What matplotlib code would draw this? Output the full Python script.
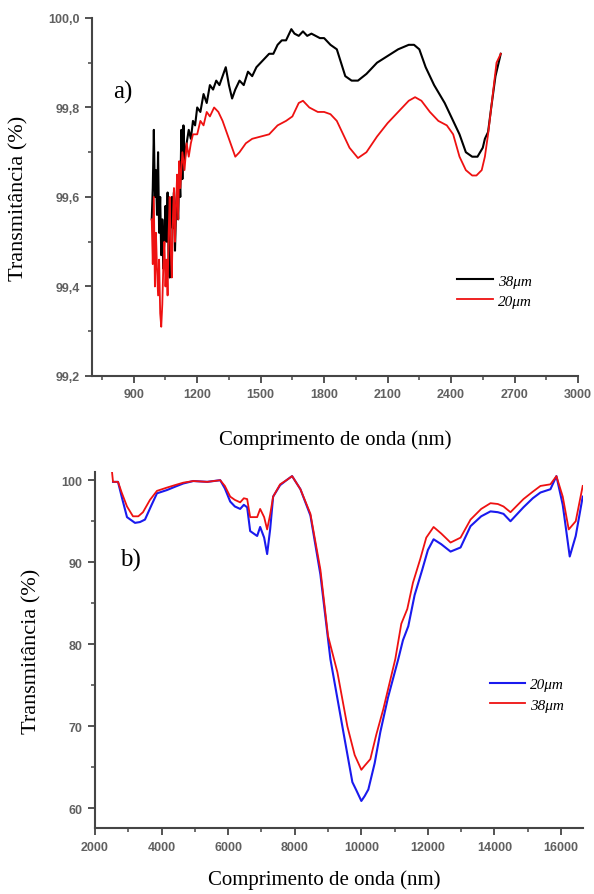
import numpy as np
import matplotlib
matplotlib.use("Agg")
import matplotlib.pyplot as plt
from matplotlib.ticker import MultipleLocator, FuncFormatter

# ---- painel a) NIR ----
a_x38 = [985, 990, 995, 1000, 1005, 1010, 1015, 1020, 1025, 1030, 1035, 1040, 1045, 1050,
         1055, 1060, 1065, 1070, 1075, 1080, 1085, 1090, 1095, 1100, 1105, 1110, 1115, 1120,
         1125, 1130, 1135, 1140, 1150, 1160, 1170, 1180, 1190, 1200, 1215, 1230, 1245, 1260,
         1275, 1290, 1305, 1320, 1335, 1350, 1365, 1380, 1400, 1420, 1440, 1460, 1480, 1500,
         1520, 1540, 1560, 1580, 1600, 1620, 1645, 1660, 1680, 1700, 1720, 1740, 1760, 1780,
         1800, 1830, 1860, 1880, 1900, 1930, 1960, 2000, 2050, 2100, 2150, 2200, 2225, 2250,
         2280, 2320, 2370, 2400, 2440, 2470, 2500, 2525, 2550, 2560, 2575, 2590, 2610, 2635]
a_y38 = [99.55, 99.62, 99.75, 99.60, 99.66, 99.56, 99.70, 99.52, 99.60, 99.47, 99.55, 99.44,
         99.52, 99.58, 99.50, 99.61, 99.46, 99.42, 99.56, 99.60, 99.53, 99.61, 99.48, 99.57,
         99.62, 99.55, 99.66, 99.60, 99.75, 99.64, 99.76, 99.68, 99.72, 99.75, 99.73, 99.77,
         99.76, 99.80, 99.79, 99.83, 99.81, 99.85, 99.84, 99.86, 99.85, 99.87, 99.89, 99.85,
         99.82, 99.84, 99.86, 99.85, 99.88, 99.87, 99.89, 99.90, 99.91, 99.92, 99.92, 99.94,
         99.95, 99.95, 99.975, 99.965, 99.96, 99.97, 99.96, 99.965, 99.96, 99.955, 99.955,
         99.94, 99.93, 99.90, 99.87, 99.86, 99.86, 99.875, 99.90, 99.915, 99.93, 99.94,
         99.94, 99.93, 99.89, 99.85, 99.81, 99.78, 99.74, 99.70, 99.69, 99.69, 99.71, 99.73,
         99.745, 99.80, 99.87, 99.92]

a_x20 = [985, 990, 995, 1000, 1005, 1010, 1015, 1020, 1025, 1030, 1035, 1040, 1045, 1050,
         1055, 1060, 1065, 1070, 1075, 1080, 1085, 1090, 1095, 1100, 1105, 1110, 1115, 1120,
         1130, 1140, 1150, 1160, 1170, 1180, 1200, 1215, 1230, 1245, 1260, 1280, 1300, 1320,
         1350, 1380, 1400, 1430, 1460, 1500, 1540, 1580, 1620, 1650, 1680, 1700, 1730, 1770,
         1800, 1830, 1860, 1890, 1920, 1960, 2000, 2050, 2100, 2150, 2200, 2230, 2260, 2300,
         2340, 2380, 2410, 2440, 2470, 2500, 2520, 2545, 2560, 2575, 2595, 2615, 2635]
a_y20 = [99.55, 99.45, 99.60, 99.40, 99.52, 99.44, 99.38, 99.46, 99.34, 99.31, 99.36, 99.45,
         99.50, 99.40, 99.46, 99.38, 99.52, 99.60, 99.48, 99.42, 99.55, 99.62, 99.50, 99.58,
         99.65, 99.55, 99.68, 99.62, 99.70, 99.66, 99.72, 99.69, 99.72, 99.74, 99.74, 99.77,
         99.76, 99.79, 99.78, 99.80, 99.79, 99.77, 99.73, 99.69, 99.70, 99.72, 99.73, 99.735,
         99.74, 99.76, 99.77, 99.78, 99.81, 99.815, 99.80, 99.79, 99.79, 99.785, 99.77, 99.74,
         99.71, 99.687, 99.70, 99.735, 99.765, 99.79, 99.815, 99.823, 99.815, 99.79, 99.77,
         99.76, 99.74, 99.69, 99.66, 99.648, 99.648, 99.66, 99.69, 99.74, 99.82, 99.90, 99.92]

# ---- painel b) IR ----
b_x38 = [2510, 2540, 2690, 2800, 2960, 3140, 3300, 3440, 3650, 3860, 4160, 4400, 4650, 4950,
         5370, 5760, 5900, 6060, 6200, 6360, 6470, 6570, 6660, 6870, 6960, 7080, 7170, 7260,
         7350, 7560, 7750, 7920, 8170, 8470, 8770, 9000, 9280, 9580, 9800, 10000, 10100, 10270,
         10450, 10660, 11020, 11200, 11380, 11550, 11770, 11950, 12170, 12400, 12680, 12980,
         13280, 13600, 13880, 14100, 14270, 14480, 14870, 15150, 15380, 15680, 15860, 16050,
         16230, 16440, 16650]
b_y38 = [101.0, 99.8, 99.8, 98.5, 96.8, 95.6, 95.6, 96.1, 97.6, 98.7, 99.1, 99.4, 99.7, 99.9,
         99.8, 100.0, 99.3, 98.0, 97.6, 97.3, 97.8, 97.7, 95.5, 95.5, 96.5, 95.5, 94.0, 95.8,
         98.0, 99.5, 100.0, 100.5, 98.9, 95.9, 89.1, 81.0, 76.6, 70.0, 66.5, 64.7, 65.2, 66.0,
         69.0, 72.1, 78.2, 82.5, 84.3, 87.5, 90.4, 93.0, 94.3, 93.5, 92.4, 93.0, 95.2, 96.5,
         97.2, 97.1, 96.8, 96.1, 97.7, 98.6, 99.3, 99.5, 100.5, 98.0, 94.0, 95.0, 99.3]

b_x20 = [2540, 2690, 2800, 2960, 3200, 3350, 3500, 3700, 3860, 4160, 4400, 4650, 4950, 5370,
         5760, 5900, 6060, 6200, 6360, 6470, 6570, 6660, 6870, 6960, 7080, 7170, 7260, 7350,
         7560, 7750, 7920, 8170, 8470, 8770, 9070, 9460, 9730, 9850, 10000, 10100, 10210,
         10400, 10570, 10800, 11110, 11250, 11410, 11600, 11830, 12000, 12170, 12400, 12680,
         12980, 13280, 13600, 13880, 14100, 14270, 14480, 14870, 15150, 15380, 15680, 15860,
         16050, 16260, 16440, 16650]
b_y20 = [99.8, 99.8, 98.0, 95.5, 94.8, 94.9, 95.2, 97.0, 98.4, 98.8, 99.2, 99.6, 99.9, 99.8,
         100.0, 99.0, 97.4, 96.8, 96.5, 97.0, 96.7, 93.8, 93.2, 94.3, 93.0, 91.0, 94.0, 98.0,
         99.4, 100.0, 100.5, 98.9, 95.7, 88.5, 78.2, 69.3, 63.2, 62.2, 60.9, 61.5, 62.3, 65.5,
         69.3, 73.5, 78.2, 80.5, 82.2, 86.0, 89.1, 91.5, 92.8, 92.2, 91.3, 91.8, 94.4, 95.6,
         96.2, 96.1, 95.9, 95.0, 96.7, 97.8, 98.5, 98.9, 100.5, 97.0, 90.7, 93.2, 98.0]

serif = "Liberation Serif"
sans = "Liberation Sans"
tick_col = "#606060"
spine_col = "#454545"

fig = plt.figure(figsize=(5.94, 8.95), dpi=100)
ax1 = fig.add_axes([0.155, 0.5788, 0.818, 0.400])
ax2 = fig.add_axes([0.160, 0.0737, 0.821, 0.3978])


def style(ax):
    for s in ["top", "right"]:
        ax.spines[s].set_visible(False)
    for s in ["left", "bottom"]:
        ax.spines[s].set_color(spine_col)
        ax.spines[s].set_linewidth(1.5)
    ax.tick_params(which="major", direction="out", length=5, width=1.3, color=spine_col,
                   labelsize=9, labelcolor=tick_col, pad=4)
    ax.tick_params(which="minor", direction="out", length=3, width=1.1, color=spine_col)
    for lab in ax.get_xticklabels() + ax.get_yticklabels():
        lab.set_fontfamily(sans)
        lab.set_fontweight("bold")


leg_prop = {"family": serif, "style": "italic", "size": 11}

# painel a
ax1.plot(a_x38, a_y38, color="black", lw=1.5, label="38μm")
ax1.plot(a_x20, a_y20, color="#ee1111", lw=1.3, label="20μm")
ax1.set_xlim(703, 3000)
ax1.set_ylim(99.2, 100.0)
ax1.set_xticks(np.arange(900, 3001, 300))
ax1.xaxis.set_minor_locator(MultipleLocator(150))
ax1.yaxis.set_major_locator(MultipleLocator(0.2))
ax1.yaxis.set_minor_locator(MultipleLocator(0.1))
ax1.yaxis.set_major_formatter(FuncFormatter(lambda v, p: f"{v:.1f}".replace(".", ",")))
style(ax1)
ax1.set_xlabel("Comprimento de onda (nm)", fontfamily=serif, fontsize=15)
ax1.set_ylabel("Transmitância (%)", fontfamily=serif, fontsize=16)
ax1.xaxis.set_label_coords(0.5, -0.148)
ax1.yaxis.set_label_coords(-0.13, 0.5)
ax1.text(0.043, 0.779, "a)", transform=ax1.transAxes, fontfamily=serif, fontsize=18)
ax1.legend(loc="upper left", bbox_to_anchor=(0.751, 0.285), frameon=False, prop=leg_prop,
           borderpad=0, borderaxespad=0, handlelength=2.35, handletextpad=0.33,
           labelspacing=0.42)

# painel b
ax2.plot(b_x20, b_y20, color="#1a1aee", lw=1.5, label="20μm")
ax2.plot(b_x38, b_y38, color="#ee1111", lw=1.3, label="38μm")
ax2.set_xlim(2000, 16650)
ax2.set_ylim(57.6, 101.0)
ax2.xaxis.set_major_locator(MultipleLocator(2000))
ax2.xaxis.set_minor_locator(MultipleLocator(1000))
ax2.yaxis.set_major_locator(MultipleLocator(10))
ax2.yaxis.set_minor_locator(MultipleLocator(5))
ax2.yaxis.set_major_formatter(FuncFormatter(lambda v, p: f"{v:.0f}"))
style(ax2)
ax2.set_xlabel("Comprimento de onda (nm)", fontfamily=serif, fontsize=15)
ax2.set_ylabel("Transmitância (%)", fontfamily=serif, fontsize=16)
ax2.xaxis.set_label_coords(0.47, -0.115)
ax2.yaxis.set_label_coords(-0.109, 0.5)
ax2.text(0.052, 0.736, "b)", transform=ax2.transAxes, fontfamily=serif, fontsize=18)
ax2.legend(loc="upper left", bbox_to_anchor=(0.809, 0.422), frameon=False, prop=leg_prop,
           borderpad=0, borderaxespad=0, handlelength=2.35, handletextpad=0.3,
           labelspacing=0.42)

fig.savefig("out.png", dpi=100)
